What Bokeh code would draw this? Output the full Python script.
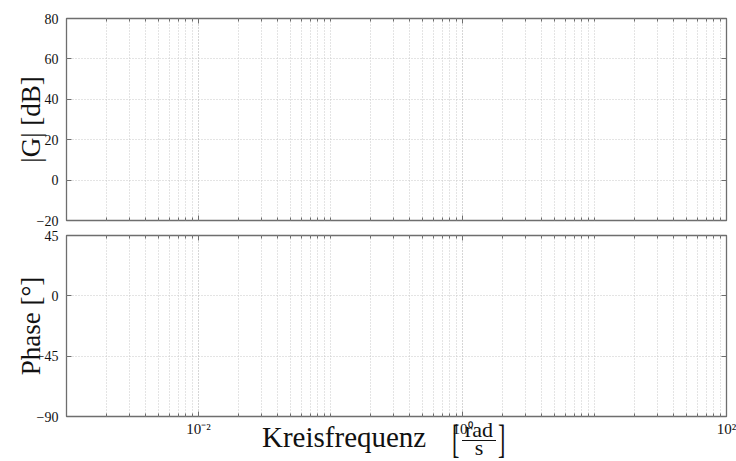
from bokeh.plotting import figure
from bokeh.layouts import column
from bokeh.models import FixedTicker, Range1d, Div, LinearAxis, LogAxis
from bokeh.embed import file_html
from bokeh.resources import INLINE

# ---- data (axis definitions; the chart has no curves) ----
x_major = [1e-2, 1e0, 1e2]
x_major_labels = ["10\u207b\u00b2", "10\u2070", "10\u00b2"]
x_decades = [-3, -2, -1, 0, 1]
x_minor = [m * 10.0 ** e for e in x_decades for m in range(1, 10)] + [100.0]
mag_ticks = [-20, 0, 20, 40, 60, 80]
phase_ticks = [-90, -45, 0, 45]
x_lo, x_hi = 1e-3, 1e2
mag_range = (-20, 80)
phase_range = (-90, 45)

FONT = "Liberation Serif"
GRID = "#c8c8c8"
FRAME = "#6e6e6e"
TXT = "#111111"


def tick_style(ax):
    ax.axis_line_color = None
    ax.major_tick_in = 5
    ax.major_tick_out = 0
    ax.minor_tick_in = 3
    ax.minor_tick_out = 0
    ax.major_tick_line_color = FRAME
    ax.minor_tick_line_color = FRAME
    ax.major_label_text_font = FONT
    ax.major_label_text_font_size = "14px"
    ax.major_label_text_color = TXT
    ax.axis_label_text_font = FONT
    ax.axis_label_text_font_style = "normal"
    ax.axis_label_text_font_size = "27px"
    ax.axis_label_text_color = TXT


def style(p, yticks, show_xlabels):
    p.outline_line_color = FRAME
    p.outline_line_width = 1.3
    # mirrored tick marks on the right and top (no labels)
    r = LinearAxis(ticker=FixedTicker(ticks=yticks),
                   major_label_overrides={t: "" for t in yticks}, major_label_standoff=0)
    t = LogAxis(ticker=FixedTicker(ticks=x_major, minor_ticks=x_minor),
                major_label_overrides={v: "" for v in x_major}, major_label_standoff=0)
    p.add_layout(r, "right")
    p.add_layout(t, "above")
    for ax in p.xaxis + p.yaxis:
        tick_style(ax)
    p.yaxis.minor_tick_line_color = None
    p.yaxis[0].major_label_standoff = 8
    p.yaxis[0].axis_label_standoff = -12
    p.yaxis[0].ticker = FixedTicker(ticks=yticks)
    p.xgrid.grid_line_color = GRID
    p.xgrid.grid_line_dash = "1 2"
    p.xgrid.minor_grid_line_color = GRID
    p.xgrid.minor_grid_line_dash = "1 2"
    p.ygrid.grid_line_color = GRID
    p.ygrid.grid_line_dash = "1 2"
    bx = p.below[0]
    bx.ticker = FixedTicker(ticks=x_major, minor_ticks=x_minor)
    if show_xlabels:
        bx.major_label_overrides = dict(zip(x_major, x_major_labels))
        bx.major_label_text_font_size = "15px"
        bx.major_label_standoff = 4
    else:
        bx.major_label_overrides = {v: "" for v in x_major}
        bx.major_label_standoff = 0


# ---- top: magnitude ----
p1 = figure(width=736, height=227, x_axis_type="log", x_range=Range1d(x_lo, x_hi),
            y_range=Range1d(*mag_range), output_backend="svg", toolbar_location=None,
            min_border_left=66, min_border_right=10, min_border_top=18, min_border_bottom=7)
style(p1, mag_ticks, False)
p1.yaxis[0].axis_label = "|G| [dB]"

# ---- bottom: phase ----
p2 = figure(width=736, height=212, x_axis_type="log", x_range=p1.x_range,
            y_range=Range1d(*phase_range), output_backend="svg", toolbar_location=None,
            min_border_left=66, min_border_right=10, min_border_top=8, min_border_bottom=19)
style(p2, phase_ticks, True)
p2.yaxis[0].axis_label = "Phase [\u00b0]"

# ---- x-axis label with a fraction, as HTML text ----
span = "position:absolute;white-space:nowrap;line-height:1;font-family:'Liberation Serif';color:%s;" % TXT
brk = span + "font-size:40px;transform:scale(0.55,1);transform-origin:left top;"
html = (
    '<div style="position:relative;width:736px;height:41px;">'
    f'<span style="{span}left:262px;top:3px;font-size:29px;">Kreisfrequenz</span>'
    f'<span style="{brk}left:452px;top:0px;">[</span>'
    f'<span style="{span}left:462px;top:-1px;width:34px;text-align:center;font-size:22px;">rad</span>'
    '<span style="position:absolute;left:462px;top:20px;width:34px;height:0;border-top:1px solid #111;"></span>'
    f'<span style="{span}left:462px;top:17px;width:34px;text-align:center;font-size:22px;">s</span>'
    f'<span style="{brk}left:498px;top:0px;">]</span>'
    '</div>'
)
xlabel = Div(text=html, width=736, height=41, margin=(-19, 0, 0, 0))

layout = column(p1, p2, xlabel, spacing=0)
open("out.html", "w").write(file_html(layout, INLINE))
